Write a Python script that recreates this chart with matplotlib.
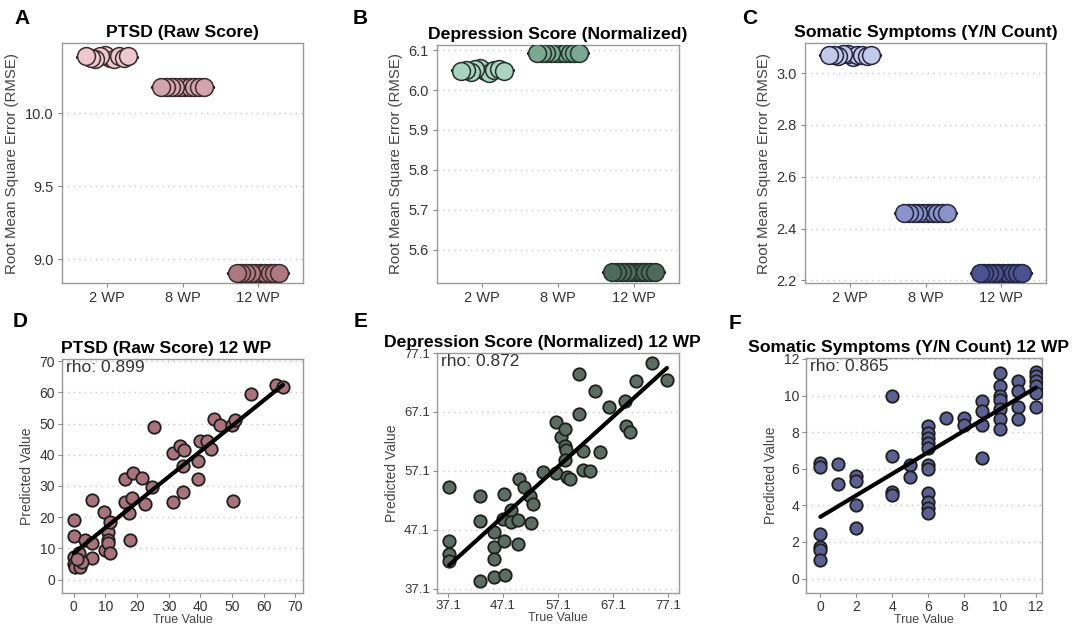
import numpy as np
import matplotlib
matplotlib.use("Agg")
import matplotlib.pyplot as plt

plt.rcParams['font.family'] = ['Liberation Sans', 'DejaVu Sans']

# ---------------- data ----------------
groups = ["2 WP", "8 WP", "12 WP"]

ptsd_2wp = [10.39, 10.38, 10.37, 10.39, 10.40, 10.38, 10.37, 10.39, 10.38, 10.39]
ptsd_8wp = [10.178, 10.178, 10.178, 10.178, 10.178, 10.178, 10.178, 10.178, 10.178, 10.178]
ptsd_12wp = [8.904, 8.904, 8.904, 8.904, 8.904, 8.904, 8.904, 8.904, 8.904, 8.904]

dep_2wp = [6.048, 6.050, 6.045, 6.052, 6.055, 6.047, 6.043, 6.050, 6.053, 6.048]
dep_8wp = [6.093, 6.093, 6.093, 6.093, 6.093, 6.093, 6.093, 6.093, 6.093, 6.093]
dep_12wp = [5.544, 5.544, 5.544, 5.544, 5.544, 5.544, 5.544, 5.544, 5.544, 5.544]

som_2wp = [3.068, 3.070, 3.065, 3.072, 3.075, 3.063, 3.068, 3.071, 3.066, 3.069]
som_8wp = [2.461, 2.461, 2.461, 2.461, 2.461, 2.461, 2.461, 2.461, 2.461, 2.461]
som_12wp = [2.228, 2.228, 2.228, 2.228, 2.228, 2.228, 2.228, 2.228, 2.228, 2.228]

ptsd_true = [0, 0, 0, 0, 0.5, 2, 1.6, 3.7, 5.8, 5.8, 5.8, 9.7, 10, 10.7, 10.7, 10.7,
             11.6, 11.6, 16.3, 16.3, 17.9, 17.4, 18.4, 18.7, 21.6, 22.4, 24.7, 25.5,
             31.4, 31.4, 33.5, 34.7, 34.5, 34.5, 39.3, 39.3, 40.0, 42.1, 43.2, 44.2,
             46.3, 50.0, 51.0, 50.3, 56.0, 64.0, 66.1, 2.5, 1.0]
ptsd_pred = [19.1, 13.9, 7.3, 5.1, 4.1, 4.1, 8.4, 12.6, 25.5, 11.6, 6.8, 21.8, 9.4, 15.3,
             12.6, 11.6, 18.5, 8.4, 32.2, 25.0, 12.6, 21.2, 26.0, 34.1, 32.5, 24.2, 29.6,
             48.9, 25.0, 40.7, 42.7, 41.6, 36.4, 28.2, 38.0, 32.2, 44.3, 44.5, 41.8, 51.6,
             49.6, 49.6, 51.2, 25.3, 59.6, 62.5, 61.7, 5.5, 6.5]
ptsd_rho = "rho: 0.899"

dep_true = [37.3, 37.3, 37.3, 37.3, 42.9, 42.9, 42.9, 45.5, 47.4, 45.5, 45.5, 45.5, 47.2,
            47.2, 47.1, 48.6, 48.6, 49.8, 49.8, 50.0, 51.0, 52.0, 52.1, 52.6, 54.4, 56.8,
            56.8, 57.7, 58.3, 58.3, 58.5, 58.3, 58.7, 59.3, 61.0, 61.0, 61.6, 61.6, 62.9,
            63.8, 64.7, 66.4, 69.2, 69.4, 70.1, 71.3, 74.2, 76.9]
dep_pred = [54.35, 45.3, 43.0, 41.9, 52.9, 48.6, 38.5, 39.1, 39.4, 46.7, 44.2, 42.2, 53.2,
            45.3, 49.0, 50.5, 48.4, 48.7, 44.7, 55.8, 54.35, 52.9, 48.2, 51.5, 56.9, 56.7,
            65.4, 62.9, 64.2, 61.4, 60.6, 58.9, 56.0, 55.8, 73.6, 66.7, 60.5, 57.2, 57.1,
            70.7, 60.3, 67.9, 68.9, 64.8, 63.7, 72.3, 75.4, 72.6]
dep_rho = "rho: 0.872"
dep_ticks = [37.1, 47.1, 57.1, 67.1, 77.1]

som_true = [0, 0, 0, 0, 0, 0, 1, 1, 2, 2, 2, 2, 4, 4, 4, 4, 5, 5,
            6, 6, 6, 6, 6, 6, 6, 6, 6, 6, 6, 7, 8, 8, 9, 9, 9, 9,
            10, 10, 10, 10, 10, 10, 10, 11, 11, 11, 11, 12, 12, 12, 12, 12, 12]
som_pred = [6.34, 6.10, 2.43, 1.70, 1.55, 1.04, 6.26, 5.17, 5.60, 5.33, 4.02, 2.74,
            10.0, 6.70, 4.75, 4.57, 6.20, 5.57,
            8.35, 7.95, 7.67, 7.40, 7.12, 6.20, 5.97, 4.66, 4.20, 3.84, 3.56,
            8.77, 8.77, 8.40, 9.68, 9.13, 8.40, 6.58,
            11.23, 10.54, 10.0, 9.74, 9.26, 8.71, 8.16, 10.81, 10.26, 9.40, 8.73,
            11.27, 11.05, 10.78, 10.50, 10.14, 9.40]
som_rho = "rho: 0.865"

# ---------------- styling ----------------
W, H = 1089, 627
fig = plt.figure(figsize=(W / 100, H / 100), dpi=100)


def px_axes(l, t, r, b):
    return fig.add_axes([l / W, 1 - b / H, (r - l) / W, (b - t) / H])


def style(ax, tsize=10.5, pad=3):
    for s in ax.spines.values():
        s.set_color('#9a9a9a')
        s.set_linewidth(1.0)
    ax.tick_params(axis='both', colors='#8a8a8a', labelcolor='#333333',
                   labelsize=tsize, length=3, width=0.8, pad=pad)
    ax.yaxis.grid(True, linestyle=(0, (1, 3)), color='#c8c8c8', linewidth=1.0)
    ax.xaxis.grid(False)
    ax.set_axisbelow(True)


def strip_panel(ax, vals_list, colors, edge, title, ylim, yticks, yfmt):
    for i, vals in enumerate(vals_list):
        vals = np.asarray(vals)
        offs = np.linspace(-0.28, 0.28, len(vals))
        ax.hlines(np.mean(vals), i - 0.40, i + 0.40, color='black', lw=2.4,
                  zorder=2, capstyle='round')
        order = np.argsort(np.abs(offs), kind='stable')
        for k in order:
            ax.scatter(i + offs[k], vals[k], s=165, color=colors[i],
                       edgecolor=edge, linewidth=1.1, zorder=3)
    ax.set_xticks(range(len(groups)))
    ax.set_xticklabels(groups)
    ax.set_xlim(-0.6, 2.6)
    ax.set_ylim(*ylim)
    ax.set_yticks(yticks)
    ax.set_yticklabels([yfmt.format(v) for v in yticks])
    ax.set_ylabel("Root Mean Square Error (RMSE)", fontsize=10.8, color='#444444')
    ax.set_title(title, fontsize=12.6, fontweight='bold', pad=4)
    style(ax)


def scatter_panel(ax, x, y, color, title, rho, xlim, ylim, xticks, yticks, fmt, tsize):
    x = np.asarray(x, float)
    y = np.asarray(y, float)
    ax.scatter(x, y, s=80, color=color, edgecolor='#1e1e1e', linewidth=1.3, zorder=3)
    k, b0 = np.polyfit(x, y, 1)
    xs = np.array([x.min(), x.max()])
    ax.plot(xs, k * xs + b0, color='black', lw=3, zorder=4, solid_capstyle='round')
    ax.set_xlim(*xlim)
    ax.set_ylim(*ylim)
    ax.set_xticks(xticks)
    ax.set_yticks(yticks)
    ax.set_xticklabels([fmt.format(v) for v in xticks])
    ax.set_yticklabels([fmt.format(v) for v in yticks])
    ax.set_xlabel("True Value", fontsize=9, color='#444444', labelpad=0)
    ax.set_ylabel("Predicted Value", fontsize=10, color='#444444')
    off = 16.0 / ax.get_position().width / W
    ax.set_title(title, fontsize=12.6, fontweight='bold', pad=4, x=0.5 - off)
    ax.text(0.015, 0.995, rho, transform=ax.transAxes, ha='left', va='top',
            fontsize=12.5, color='#333333', zorder=5)
    style(ax, tsize, pad=2)


# top row
axA = px_axes(62, 43, 303, 283)
strip_panel(axA, [ptsd_2wp, ptsd_8wp, ptsd_12wp],
            ['#ecc9cf', '#d3a4ad', '#ad7880'], '#3b2a2d',
            "PTSD (Raw Score)", (8.836, 10.48), [9.0, 9.5, 10.0], "{:.1f}")

axB = px_axes(437, 45, 679, 283)
strip_panel(axB, [dep_2wp, dep_8wp, dep_12wp],
            ['#a9d3c3', '#7aa892', '#4c6b5c'], '#24302a',
            "Depression Score (Normalized)", (5.516, 6.113),
            [5.6, 5.7, 5.8, 5.9, 6.0, 6.1], "{:.1f}")

axC = px_axes(805, 43, 1046, 283)
strip_panel(axC, [som_2wp, som_8wp, som_12wp],
            ['#c3c9e8', '#8a92c9', '#4b5290'], '#22253d',
            "Somatic Symptoms (Y/N Count)", (2.19, 3.116),
            [2.2, 2.4, 2.6, 2.8, 3.0], "{:.1f}")

# bottom row
axD = px_axes(62, 359, 303, 593)
scatter_panel(axD, ptsd_true, ptsd_pred, '#a9737b', "PTSD (Raw Score) 12 WP", ptsd_rho,
              (-3.7, 72.4), (-4.3, 70.7), list(range(0, 71, 10)), list(range(0, 71, 10)),
              "{:g}", 10)

axE = px_axes(437, 353, 679, 593)
scatter_panel(axE, dep_true, dep_pred, '#5b6e63', "Depression Score (Normalized) 12 WP",
              dep_rho, (35.1, 79.1), (36.4, 77.1), dep_ticks, dep_ticks, "{:.1f}", 9.5)

axF = px_axes(806, 358, 1042, 593)
scatter_panel(axF, som_true, som_pred, '#5b6192', "Somatic Symptoms (Y/N Count) 12 WP",
              som_rho, (-0.8, 12.34), (-0.79, 12.05), list(range(0, 13, 2)),
              list(range(0, 13, 2)), "{:g}", 10)

# panel letters
for lab, (xp, yp) in zip("ABCDEF", [(14, 9), (353, 9), (742, 9),
                                     (13, 312), (354, 312), (729, 314)]):
    fig.text(xp / W, 1 - yp / H, lab, fontsize=15, fontweight='bold',
             ha='left', va='top')

fig.savefig("out.png", dpi=100)
